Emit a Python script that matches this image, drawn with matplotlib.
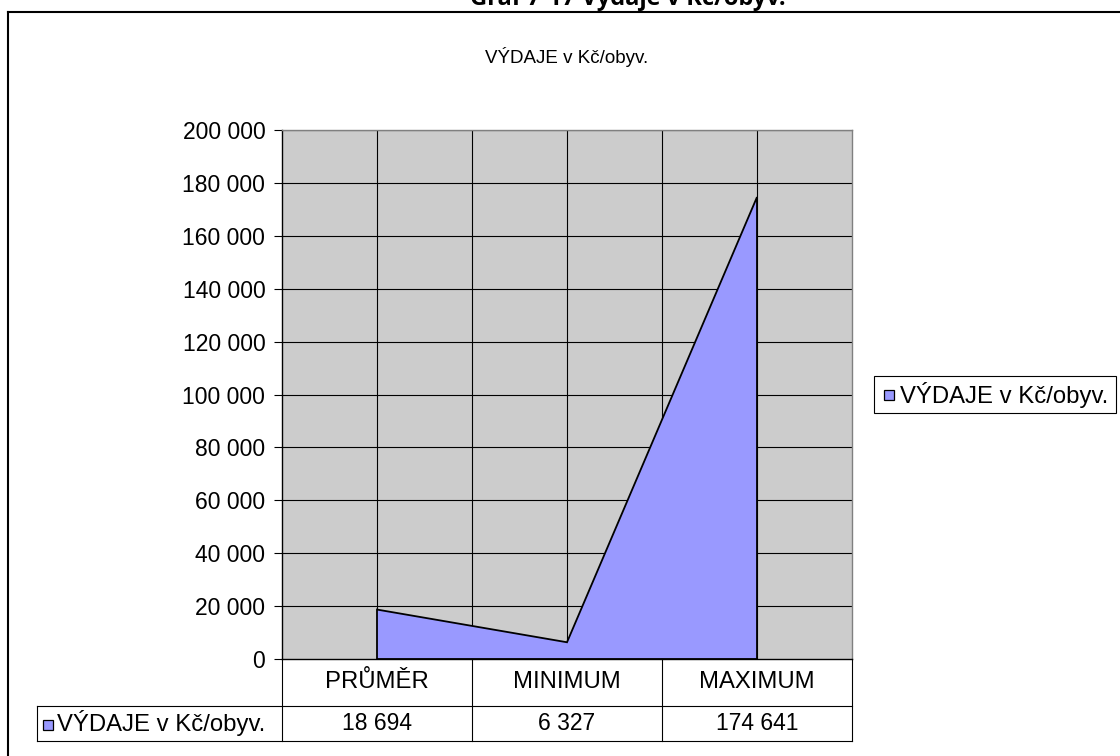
import matplotlib
matplotlib.use("Agg")
import matplotlib.pyplot as plt
from matplotlib.lines import Line2D
from matplotlib.patches import Rectangle
from matplotlib.transforms import blended_transform_factory
from matplotlib.ticker import FuncFormatter

plt.rcParams['font.family'] = ['Liberation Sans', 'DejaVu Sans']

categories = ["PRŮMĚR", "MINIMUM", "MAXIMUM"]
values = [18694, 6327, 174641]
series_name = "VÝDAJE v Kč/obyv."
page_title = "Graf 7-17 Výdaje v Kč/obyv."
y_ticks = list(range(0, 200001, 20000))

W, H = 1120, 756
fig = plt.figure(figsize=(W / 100, H / 100), dpi=100)

def fx(x):
    return x / W

def fy(y):
    return 1 - y / H

def fmt(v):
    return f"{int(v):,}".replace(",", " ")

fill_color = "#9999FF"
bg_color = "#CCCCCC"
fs = 16.5
fs_label = 17.2

# plot area
left, right, top, bottom = 282, 852, 130, 659
ax = fig.add_axes([fx(left), fy(bottom), fx(right - left), (bottom - top) / H])
ax.set_facecolor(bg_color)
ax.set_xlim(-0.5, len(categories) - 0.5)
ax.set_ylim(0, 200000)

# gridlines: horizontal at y ticks, vertical at category centres and boundaries
for t in y_ticks[1:]:
    ax.axhline(t, color="black", lw=0.8, zorder=1)
for g in [i * 0.5 for i in range(0, 2 * len(categories) - 1)]:
    ax.axvline(g, color="black", lw=0.8, zorder=1)

# area series
xs = list(range(len(categories)))
poly_x = [xs[0]] + xs + [xs[-1]]
poly_y = [0] + values + [0]
ax.fill(poly_x, poly_y, facecolor=fill_color, edgecolor="black", lw=1.3, zorder=2)

ax.set_yticks(y_ticks)
ax.yaxis.set_major_formatter(FuncFormatter(lambda v, p: fmt(v)))
ax.tick_params(axis="y", length=6, width=0.8, pad=6, labelsize=fs, direction="out")
ax.set_xticks([])
for s in ["top", "right"]:
    ax.spines[s].set_color("#808080")
    ax.spines[s].set_linewidth(1.0)
for s in ["left", "bottom"]:
    ax.spines[s].set_color("black")
    ax.spines[s].set_linewidth(1.0)

# data table below the plot
bt = blended_transform_factory(ax.transData, fig.transFigure)
row1_bot, row2_bot = 706, 741
lw = 0.8
for b in [-0.5, 0.5, 1.5, 2.5]:
    fig.add_artist(Line2D([b, b], [fy(bottom), fy(row2_bot)], transform=bt, color="black", lw=lw))
for i, c in enumerate(categories):
    fig.text(i, fy((bottom + row1_bot) / 2), c, transform=bt, ha="center", va="center", fontsize=fs_label)
    fig.text(i, fy((row1_bot + row2_bot) / 2), fmt(values[i]),
             transform=bt, ha="center", va="center", fontsize=fs)
tab_left = 37
for yy in (row1_bot, row2_bot):
    fig.add_artist(Line2D([fx(tab_left), fx(right)], [fy(yy), fy(yy)],
                          transform=fig.transFigure, color="black", lw=lw))
fig.add_artist(Line2D([fx(tab_left), fx(tab_left)], [fy(row1_bot), fy(row2_bot)],
                      transform=fig.transFigure, color="black", lw=lw))
# legend key inside the table
fig.add_artist(Rectangle((fx(43), fy(730)), fx(10), 10 / H, transform=fig.transFigure,
                         facecolor=fill_color, edgecolor="black", lw=0.9))
fig.text(fx(57), fy((row1_bot + row2_bot) / 2), series_name, ha="left", va="center", fontsize=fs_label)

# legend box on the right
lg_l, lg_r, lg_t, lg_b = 874, 1116, 376, 413
fig.add_artist(Rectangle((fx(lg_l), fy(lg_b)), fx(lg_r - lg_l), (lg_b - lg_t) / H,
                         transform=fig.transFigure, facecolor="white", edgecolor="black", lw=0.8))
fig.add_artist(Rectangle((fx(884), fy(400)), fx(10), 10 / H, transform=fig.transFigure,
                         facecolor=fill_color, edgecolor="black", lw=0.9))
fig.text(fx(900), fy((lg_t + lg_b) / 2), series_name, ha="left", va="center", fontsize=fs_label)

# chart title
fig.text(fx(567), fy(57), series_name, ha="center", va="center", fontsize=13.5)

# page caption above the chart frame (partly outside the canvas)
fig.text(fx(628), fy(5), page_title, ha="center", va="baseline", fontsize=17,
         fontweight="bold", family=["Open Sans", "DejaVu Sans"])

# chart frame
fig.add_artist(Line2D([fx(8), fx(8)], [fy(12), 0], transform=fig.transFigure, color="black", lw=1.5))
fig.add_artist(Line2D([fx(8), 1], [fy(12), fy(12)], transform=fig.transFigure, color="black", lw=1.5))

fig.savefig("out.png", dpi=100)
